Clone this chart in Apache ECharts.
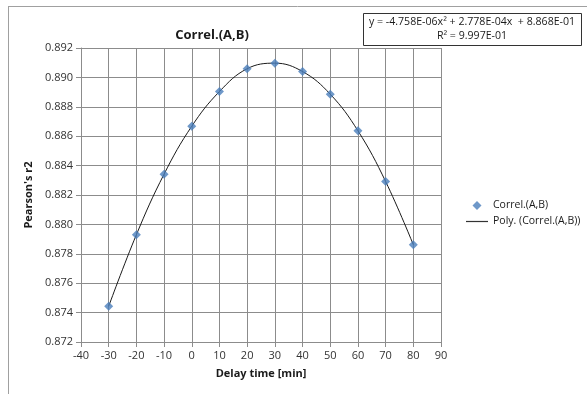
<!DOCTYPE html>
<html>
<head>
<meta charset="utf-8">
<script src="https://cdn.jsdelivr.net/npm/echarts@6/dist/echarts.min.js"></script>
<style>
  html, body { margin: 0; padding: 0; background: #fff; }
  #chart { width: 587px; height: 394px; }
</style>
</head>
<body>
<div id="chart"></div>
<script>
// delay times [min] and measured Pearson's r2
const delays = [-30, -20, -10, 0, 10, 20, 30, 40, 50, 60, 70, 80];
const correl = [0.87443, 0.8793, 0.88342, 0.88668, 0.88904, 0.89059, 0.89097, 0.8904, 0.88886, 0.88637, 0.88292, 0.87862];
const equationText = ['y = -4.758E-06x² + 2.778E-04x  + 8.868E-01', 'R² = 9.997E-01'];

const font = '"Open Sans", "Liberation Sans", sans-serif';
const gridColor = '#8c8c8c';

const points = delays.map((d, i) => [d, correl[i]]);

const chart = echarts.init(document.getElementById('chart'));

chart.setOption({
  animation: false,
  title: {
    text: 'Correl.(A,B)',
    left: 207,
    top: 24,
    textAlign: 'center',
    textStyle: { fontFamily: font, fontSize: 13, fontWeight: 'bold', color: '#1a1a1a' }
  },
  grid: { left: 81, top: 48, width: 360, height: 294 },
  legend: {
    orient: 'vertical',
    left: 461,
    top: 195,
    itemGap: 5,
    itemWidth: 22,
    itemHeight: 9,
    textStyle: { fontFamily: font, fontSize: 10.5, color: '#1a1a1a' },
    data: [
      { name: 'Correl.(A,B)', icon: 'path://M5,0 L10,5 L5,10 L0,5 Z', itemStyle: { color: '#4a7ebb' } },
      { name: 'Poly. (Correl.(A,B))', icon: 'path://M0,0 L40,0 L40,2.2 L0,2.2 Z', itemStyle: { color: '#333' } }
    ]
  },
  xAxis: {
    type: 'value',
    min: -40,
    max: 90,
    interval: 10,
    name: 'Delay time [min]',
    nameLocation: 'middle',
    nameGap: 26,
    nameTextStyle: { fontFamily: font, fontSize: 11, fontWeight: 'bold', color: '#1a1a1a' },
    axisLine: { onZero: false, lineStyle: { color: gridColor } },
    axisTick: { show: true, length: 5, lineStyle: { color: gridColor } },
    axisLabel: { fontFamily: font, fontSize: 11, color: '#333', margin: 8 },
    splitLine: { show: true, lineStyle: { color: gridColor, width: 1 } }
  },
  yAxis: {
    type: 'value',
    min: 0.872,
    max: 0.892,
    interval: 0.002,
    name: "Pearson's r2",
    nameLocation: 'middle',
    nameGap: 46,
    nameTextStyle: { fontFamily: font, fontSize: 11, fontWeight: 'bold', color: '#1a1a1a' },
    axisLine: { show: true, onZero: false, lineStyle: { color: gridColor } },
    axisTick: { show: true, length: 5, lineStyle: { color: gridColor } },
    axisLabel: {
      fontFamily: font, fontSize: 11, color: '#333', margin: 8,
      formatter: v => v.toFixed(3)
    },
    splitLine: { show: true, lineStyle: { color: gridColor, width: 1 } }
  },
  series: [
    {
      name: 'Poly. (Correl.(A,B))',
      type: 'line',
      data: points,
      smooth: 0.4,
      showSymbol: false,
      symbol: 'none',
      lineStyle: { color: '#1a1a1a', width: 1 },
      itemStyle: { color: '#1a1a1a' },
      z: 2
    },
    {
      name: 'Correl.(A,B)',
      type: 'scatter',
      data: points,
      symbol: 'diamond',
      symbolSize: 9,
      itemStyle: { color: '#4a7ebb' },
      z: 3
    }
  ],
  graphic: [
    // outer chart frame (top and left edges visible)
    { type: 'line', shape: { x1: 8, y1: 6.5, x2: 587, y2: 6.5 }, style: { stroke: '#a0a0a0', lineWidth: 1 } },
    { type: 'line', shape: { x1: 8.5, y1: 6, x2: 8.5, y2: 394 }, style: { stroke: '#a0a0a0', lineWidth: 1 } },
    // trendline equation box
    {
      type: 'rect',
      shape: { x: 363.5, y: 13.5, width: 218, height: 32 },
      style: { fill: '#fff', stroke: '#333', lineWidth: 1 },
      z: 10
    },
    {
      type: 'text',
      x: 472, y: 16,
      style: { text: equationText[0], fontFamily: font, fontSize: 10.6, fill: '#1a1a1a', align: 'center' },
      z: 11
    },
    {
      type: 'text',
      x: 472, y: 30,
      style: { text: equationText[1], fontFamily: font, fontSize: 10.6, fill: '#1a1a1a', align: 'center' },
      z: 11
    }
  ]
});
</script>
</body>
</html>
